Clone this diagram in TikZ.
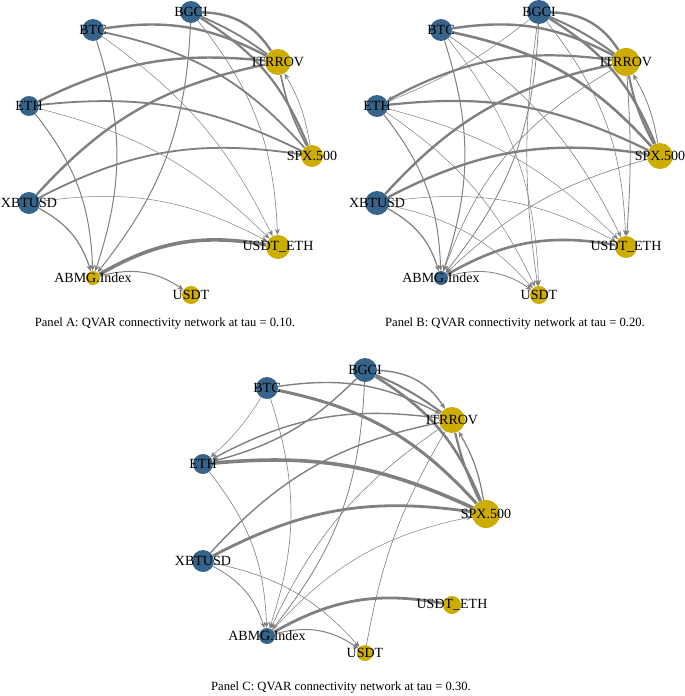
\documentclass[tikz,border=0pt]{standalone}
\usepackage{fontspec}
\setmainfont{Liberation Serif}
\usetikzlibrary{arrows.meta}
\definecolor{nb}{RGB}{54,100,139}
\definecolor{ny}{RGB}{205,173,0}
\definecolor{eg}{RGB}{128,128,128}
\tikzset{
  vb/.style={circle, fill=nb, draw=none, inner sep=0pt, minimum size=#1},
  vy/.style={circle, fill=ny, draw=none, inner sep=0pt, minimum size=#1},
  lbl/.style={font=\fontsize{14}{14}\selectfont, inner sep=0pt, text=black},
  e/.style={draw=eg, line width=#1},
  ea/.style={draw=eg, line width=#1, -{Stealth[length=6pt,width=5pt,inset=2pt]}},
  captxt/.style={font=\fontsize{12.6}{14}\selectfont, inner sep=0pt}
}
\begin{document}
\begin{tikzpicture}[x=1pt,y=-1pt]
\useasboundingbox (0,0) rectangle (685,696);
\fill[white] (0,0) rectangle (685,696);

% ---------------- Panel A ----------------
\begin{scope}
\node[vb=22] (A-bgci) at (191,12) {};
\node[vb=22] (A-btc) at (93,30) {};
\node[vy=26] (A-itr) at (278,62) {};
\node[vb=20] (A-eth) at (29,106) {};
\node[vy=22] (A-spx) at (312,156) {};
\node[vb=22] (A-xbt) at (29,203) {};
\node[vy=24] (A-ue) at (278,247) {};
\node[vy=14] (A-abmg) at (93,278) {};
\node[vy=18] (A-usdt) at (191,295) {};
\draw[e=2.4] (A-btc) to[bend left=18] (A-itr);
\draw[e=2.4] (A-bgci) to[bend left=28] (A-itr);
\draw[e=1.8] (A-bgci) to[bend left=6] (A-itr);
\draw[e=2.2] (A-bgci) to[bend left=18] (A-spx);
\draw[e=1.8] (A-btc) to[bend left=18] (A-spx);
\draw[e=1.6] (A-itr) to[bend right=8] (A-spx);
\draw[ea=0.6] (A-spx) to[bend right=10] (A-itr);
\draw[e=2.4] (A-eth) to[bend left=16] (A-itr);
\draw[e=1.8] (A-eth) to[bend left=16] (A-spx);
\draw[e=2.4] (A-xbt) to[bend left=18] (A-itr);
\draw[e=1.8] (A-xbt) to[bend left=18] (A-spx);
\draw[ea=0.5] (A-xbt) to[bend left=18] (A-ue);
\draw[ea=0.5] (A-eth) to[bend left=15] (A-ue);
\draw[ea=0.5] (A-btc) to[bend left=14] (A-ue);
\draw[ea=0.6] (A-bgci) to[bend left=18] (A-ue);
\draw[ea=1] (A-btc) to[bend left=18] (A-abmg);
\draw[ea=1] (A-eth) to[bend left=18] (A-abmg);
\draw[ea=1] (A-bgci) to[bend left=18] (A-abmg);
\draw[ea=1.2] (A-xbt) to[bend left=22] (A-abmg);
\draw[e=3.6] (A-ue) to[bend right=20] (A-abmg);
\draw[ea=1] (A-abmg) to[bend left=25] (A-usdt);
\node[lbl] at (A-bgci) {BGCI};
\node[lbl] at (A-btc) {BTC};
\node[lbl] at (A-itr) {ITRROV};
\node[lbl] at (A-eth) {ETH};
\node[lbl] at (A-spx) {SPX.500};
\node[lbl] at (A-xbt) {XBTUSD};
\node[lbl] at (A-ue) {USDT\_ETH};
\node[lbl] at (A-abmg) {ABMG.Index};
\node[lbl] at (A-usdt) {USDT};
\node[captxt] (A-cap) at (165,323) {Panel A: QVAR connectivity network at tau = 0.10.};
\end{scope}

% ---------------- Panel B ----------------
\begin{scope}[shift={(348,0)}]
\node[vb=24] (B-bgci) at (191,12) {};
\node[vb=22] (B-btc) at (93,30) {};
\node[vy=28] (B-itr) at (278,62) {};
\node[vb=22] (B-eth) at (29,106) {};
\node[vy=26] (B-spx) at (312,156) {};
\node[vb=24] (B-xbt) at (29,203) {};
\node[vy=22] (B-ue) at (278,247) {};
\node[vb=14] (B-abmg) at (93,278) {};
\node[vy=18] (B-usdt) at (191,295) {};
\draw[e=2.4] (B-btc) to[bend left=18] (B-itr);
\draw[e=2.4] (B-bgci) to[bend left=28] (B-itr);
\draw[e=2] (B-bgci) to[bend left=6] (B-itr);
\draw[e=2.4] (B-bgci) to[bend left=18] (B-spx);
\draw[e=2.6] (B-btc) to[bend left=18] (B-spx);
\draw[e=2] (B-itr) to[bend right=8] (B-spx);
\draw[ea=0.8] (B-spx) to[bend right=10] (B-itr);
\draw[ea=2.2] (B-itr) to[bend right=18] (B-eth);
\draw[e=2.2] (B-eth) to[bend left=16] (B-spx);
\draw[e=2.4] (B-xbt) to[bend left=18] (B-itr);
\draw[e=2.4] (B-xbt) to[bend left=18] (B-spx);
\draw[e=2.6] (B-ue) to[bend right=20] (B-abmg);
\draw[ea=0.5] (B-xbt) to[bend left=18] (B-ue);
\draw[ea=0.5] (B-eth) to[bend left=15] (B-ue);
\draw[ea=0.6] (B-btc) to[bend left=14] (B-ue);
\draw[ea=0.6] (B-bgci) to[bend left=18] (B-ue);
\draw[ea=0.8] (B-itr) to[bend left=4] (B-ue);
\draw[ea=1] (B-btc) to[bend left=18] (B-abmg);
\draw[ea=1] (B-eth) to[bend left=18] (B-abmg);
\draw[ea=1.2] (B-xbt) to[bend left=22] (B-abmg);
\draw[ea=0.8] (B-bgci) to[bend left=18] (B-abmg);
\draw[ea=0.6] (B-itr) to[bend right=20] (B-abmg);
\draw[ea=0.6] (B-spx) to[bend right=14] (B-abmg);
\draw[ea=0.8] (B-abmg) to[bend left=25] (B-usdt);
\draw[ea=0.5] (B-xbt) to[bend left=18] (B-usdt);
\draw[ea=0.5] (B-eth) to[bend left=15] (B-usdt);
\draw[ea=0.5] (B-btc) to[bend left=18] (B-usdt);
\draw[ea=0.6] (B-bgci) to[bend right=8] (B-usdt);
\draw[e=0.5] (B-bgci) to[bend left=8] (B-eth);
\node[lbl] at (B-bgci) {BGCI};
\node[lbl] at (B-btc) {BTC};
\node[lbl] at (B-itr) {ITRROV};
\node[lbl] at (B-eth) {ETH};
\node[lbl] at (B-spx) {SPX.500};
\node[lbl] at (B-xbt) {XBTUSD};
\node[lbl] at (B-ue) {USDT\_ETH};
\node[lbl] at (B-abmg) {ABMG.Index};
\node[lbl] at (B-usdt) {USDT};
\node[captxt] (B-cap) at (167,323) {Panel B: QVAR connectivity network at tau = 0.20.};
\end{scope}

% ---------------- Panel C ----------------
\begin{scope}[shift={(174,358)}]
\node[vb=24] (C-bgci) at (191,12) {};
\node[vb=22] (C-btc) at (93,30) {};
\node[vy=26] (C-itr) at (278,62) {};
\node[vb=20] (C-eth) at (29,106) {};
\node[vy=28] (C-spx) at (312,156) {};
\node[vb=22] (C-xbt) at (29,203) {};
\node[vy=18] (C-ue) at (278,247) {};
\node[vb=16] (C-abmg) at (93,278) {};
\node[vy=16] (C-usdt) at (191,295) {};
\draw[ea=1.4] (C-btc) to[bend left=18] (C-itr);
\draw[ea=1.4] (C-bgci) to[bend left=28] (C-itr);
\draw[e=2] (C-bgci) to[bend left=6] (C-itr);
\draw[e=2.6] (C-bgci) to[bend left=18] (C-spx);
\draw[e=3] (C-btc) to[bend left=18] (C-spx);
\draw[e=2.2] (C-itr) to[bend right=6] (C-spx);
\draw[ea=1.2] (C-spx) to[bend right=10] (C-itr);
\draw[ea=1.4] (C-itr) to[bend right=18] (C-eth);
\draw[ea=1.4] (C-bgci) to[bend left=15] (C-eth);
\draw[ea=0.5] (C-btc) to[bend left=8] (C-eth);
\draw[e=3.6] (C-eth) to[bend left=15] (C-spx);
\draw[e=2.8] (C-xbt) to[bend left=18] (C-spx);
\draw[e=1.4] (C-xbt) to[bend left=18] (C-itr);
\draw[e=2.8] (C-ue) to[bend right=20] (C-abmg);
\draw[ea=1] (C-abmg) to[bend left=25] (C-usdt);
\draw[ea=0.6] (C-xbt) to[bend left=18] (C-usdt);
\draw[ea=0.8] (C-xbt) to[bend left=22] (C-abmg);
\draw[ea=0.6] (C-eth) to[bend left=18] (C-abmg);
\draw[ea=0.6] (C-btc) to[bend left=18] (C-abmg);
\draw[ea=0.8] (C-bgci) to[bend left=18] (C-abmg);
\draw[ea=0.6] (C-itr) to[bend right=15] (C-abmg);
\draw[ea=0.5] (C-abmg) to[bend left=18] (C-spx);
\draw[e=0.6] (C-itr) to[bend right=10] (C-usdt);
\node[lbl] at (C-bgci) {BGCI};
\node[lbl] at (C-btc) {BTC};
\node[lbl] at (C-itr) {ITRROV};
\node[lbl] at (C-eth) {ETH};
\node[lbl] at (C-spx) {SPX.500};
\node[lbl] at (C-xbt) {XBTUSD};
\node[lbl] at (C-ue) {USDT\_ETH};
\node[lbl] at (C-abmg) {ABMG.Index};
\node[lbl] at (C-usdt) {USDT};
\node[captxt] (C-cap) at (167,329) {Panel C: QVAR connectivity network at tau = 0.30.};
\end{scope}
\end{tikzpicture}
\end{document}
